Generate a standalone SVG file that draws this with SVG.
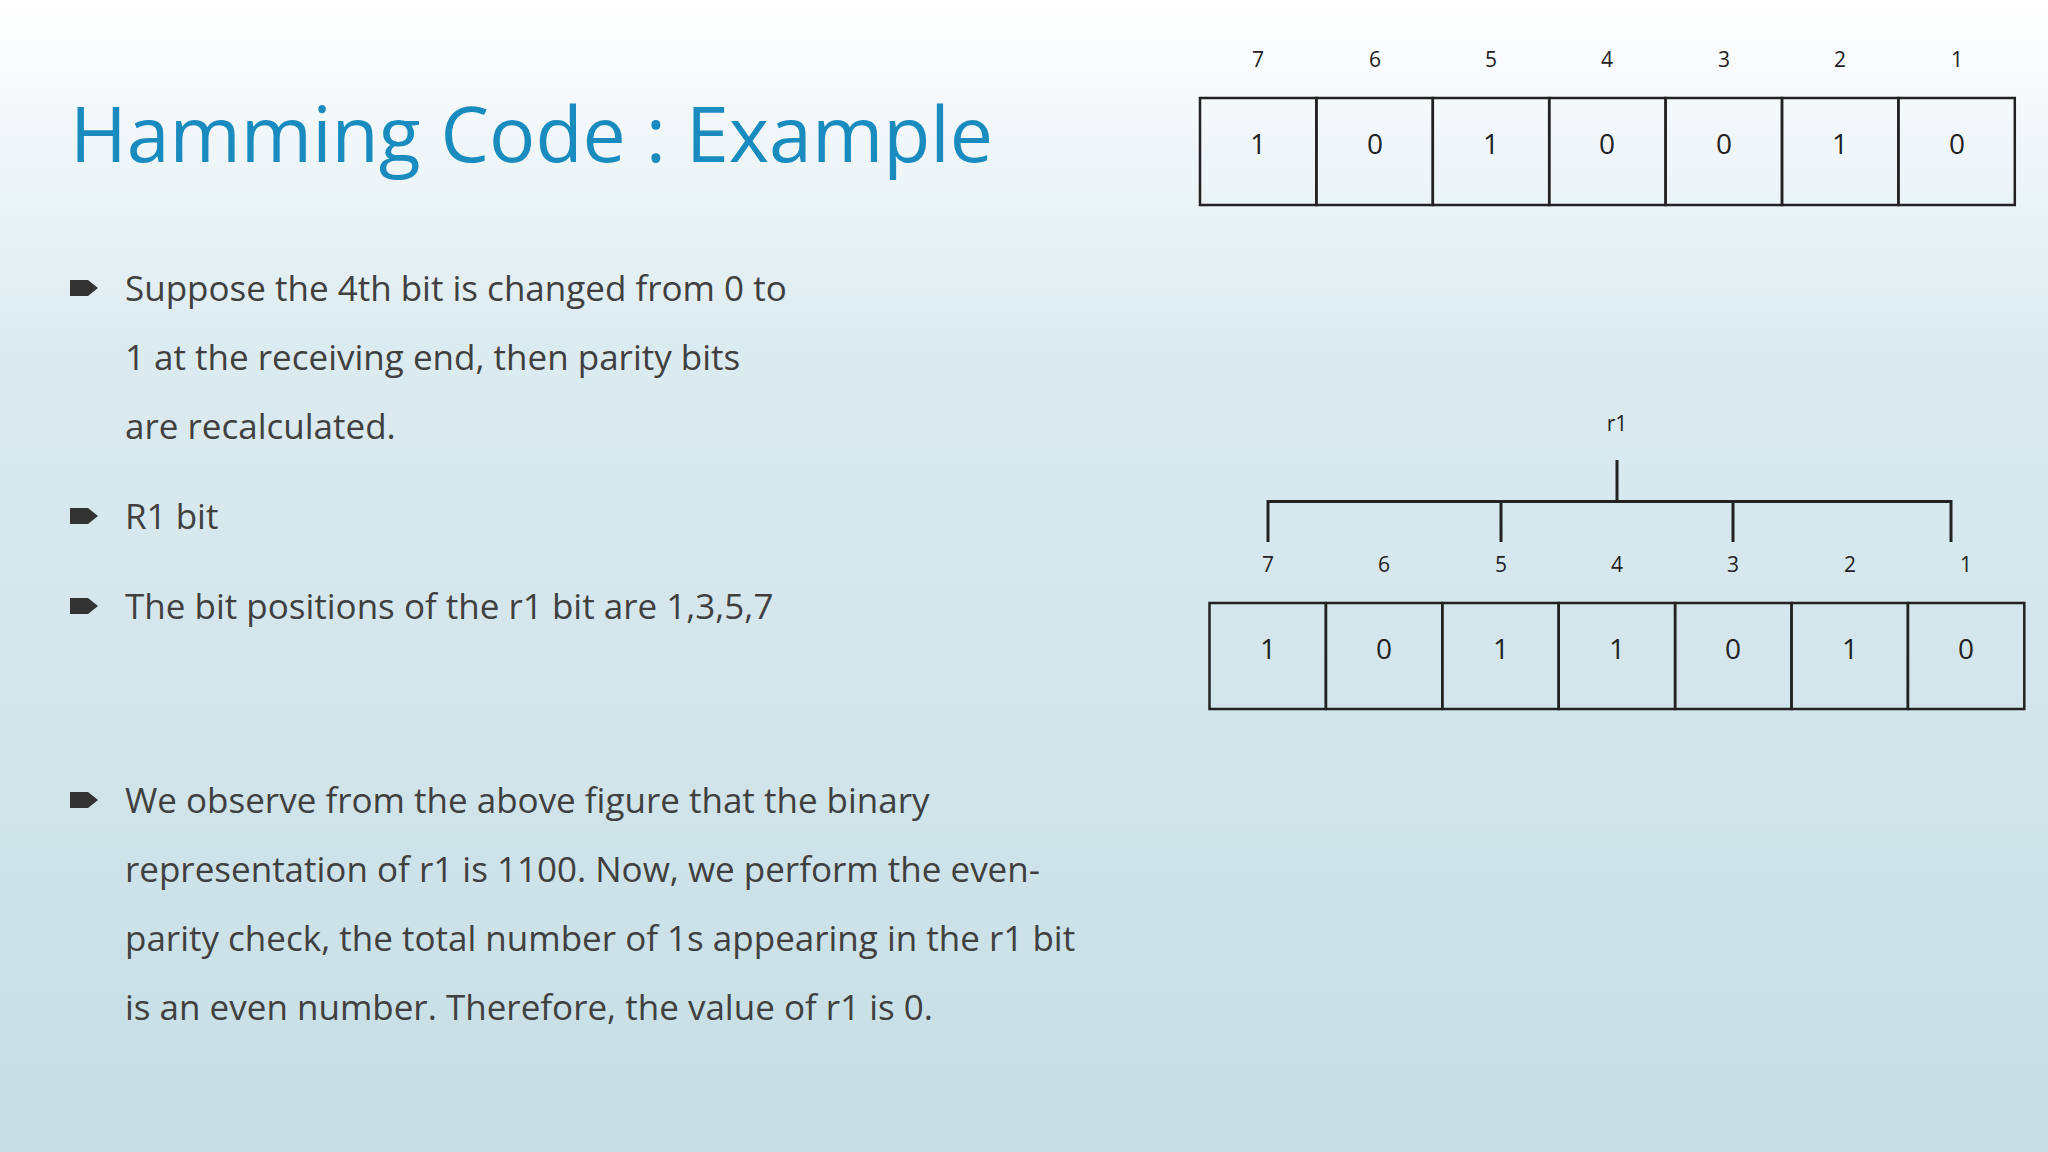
<svg xmlns="http://www.w3.org/2000/svg" width="2048" height="1152" viewBox="0 0 2048 1152">
<defs>
<linearGradient id="bg" x1="0" y1="0" x2="0" y2="1">
<stop offset="0" stop-color="#ffffff"/>
<stop offset="0.3" stop-color="#dcebf0"/>
<stop offset="1" stop-color="#c6dee5"/>
</linearGradient>
<path id="bul" d="M0,-8 L18,-8 L28,0 L18,8 L0,8 Z" fill="#333"/>
</defs>
<style>
.t{font-family:"Open Sans","Noto Sans",sans-serif;fill:#404040;font-size:35px}
.c{font-family:"Open Sans","Noto Sans",sans-serif;fill:#222;font-size:28px;text-anchor:middle}
.l{font-family:"Open Sans","Noto Sans",sans-serif;fill:#222;font-size:21px;text-anchor:middle}
.cell{fill:none;stroke:#222;stroke-width:2.5}
.ln{stroke:#222;stroke-width:3;fill:none}
</style>
<rect width="2048" height="1152" fill="url(#bg)"/>
<g id="title"><text x="70" y="162" font-family="Open Sans,Noto Sans,sans-serif" font-size="77" fill="#1a8bbf">Hamming Code : Example</text></g>
<g id="bullets">
<use href="#bul" x="70" y="288"/>
<text class="t" x="125" y="301">Suppose the 4th bit is changed from 0 to</text>
<text class="t" x="125" y="370">1 at the receiving end, then parity  bits</text>
<text class="t" x="125" y="439">are recalculated.</text>
<use href="#bul" x="70" y="516"/>
<text class="t" x="125" y="529">R1 bit</text>
<use href="#bul" x="70" y="606"/>
<text class="t" x="125" y="619">The bit positions of the r1 bit are 1,3,5,7</text>
<use href="#bul" x="70" y="800"/>
<text class="t" x="125" y="813">We observe from the above figure that the binary</text>
<text class="t" x="125" y="882">representation of r1 is 1100.  Now, we perform the even-</text>
<text class="t" x="125" y="951">parity check, the total number of 1s appearing in the r1  bit</text>
<text class="t" x="125" y="1020">is an even number. Therefore, the value of r1 is 0.</text>
</g>
<g id="table1">
<rect class="cell" x="1200" y="98" width="116.4" height="107"/>
<rect class="cell" x="1316.4" y="98" width="116.4" height="107"/>
<rect class="cell" x="1432.8" y="98" width="116.4" height="107"/>
<rect class="cell" x="1549.2" y="98" width="116.4" height="107"/>
<rect class="cell" x="1665.6" y="98" width="116.4" height="107"/>
<rect class="cell" x="1782" y="98" width="116.4" height="107"/>
<rect class="cell" x="1898.4" y="98" width="116.4" height="107"/>
<text class="l" x="1258" y="67">7</text><text class="l" x="1375" y="67">6</text><text class="l" x="1491" y="67">5</text><text class="l" x="1607" y="67">4</text><text class="l" x="1724" y="67">3</text><text class="l" x="1840" y="67">2</text><text class="l" x="1957" y="67">1</text>
<text class="c" x="1258" y="154">1</text><text class="c" x="1375" y="154">0</text><text class="c" x="1491" y="154">1</text><text class="c" x="1607" y="154">0</text><text class="c" x="1724" y="154">0</text><text class="c" x="1840" y="154">1</text><text class="c" x="1957" y="154">0</text>
</g>
<g id="connectors">
<path class="ln" d="M1617,460 V501 M1268,501.5 H1951 M1268,500 V542 M1501,500 V542 M1733,500 V542 M1951,500 V542"/>
</g>
<g id="r1label"><text class="l" x="1617" y="431">r1</text></g>
<g id="table2">
<rect class="cell" x="1209.5" y="603" width="116.4" height="106"/>
<rect class="cell" x="1325.9" y="603" width="116.4" height="106"/>
<rect class="cell" x="1442.3" y="603" width="116.4" height="106"/>
<rect class="cell" x="1558.7" y="603" width="116.4" height="106"/>
<rect class="cell" x="1675.1" y="603" width="116.4" height="106"/>
<rect class="cell" x="1791.5" y="603" width="116.4" height="106"/>
<rect class="cell" x="1907.9" y="603" width="116.4" height="106"/>
<text class="l" x="1268" y="572">7</text><text class="l" x="1384" y="572">6</text><text class="l" x="1501" y="572">5</text><text class="l" x="1617" y="572">4</text><text class="l" x="1733" y="572">3</text><text class="l" x="1850" y="572">2</text><text class="l" x="1966" y="572">1</text>
<text class="c" x="1268" y="659">1</text><text class="c" x="1384" y="659">0</text><text class="c" x="1501" y="659">1</text><text class="c" x="1617" y="659">1</text><text class="c" x="1733" y="659">0</text><text class="c" x="1850" y="659">1</text><text class="c" x="1966" y="659">0</text>
</g>
</svg>
